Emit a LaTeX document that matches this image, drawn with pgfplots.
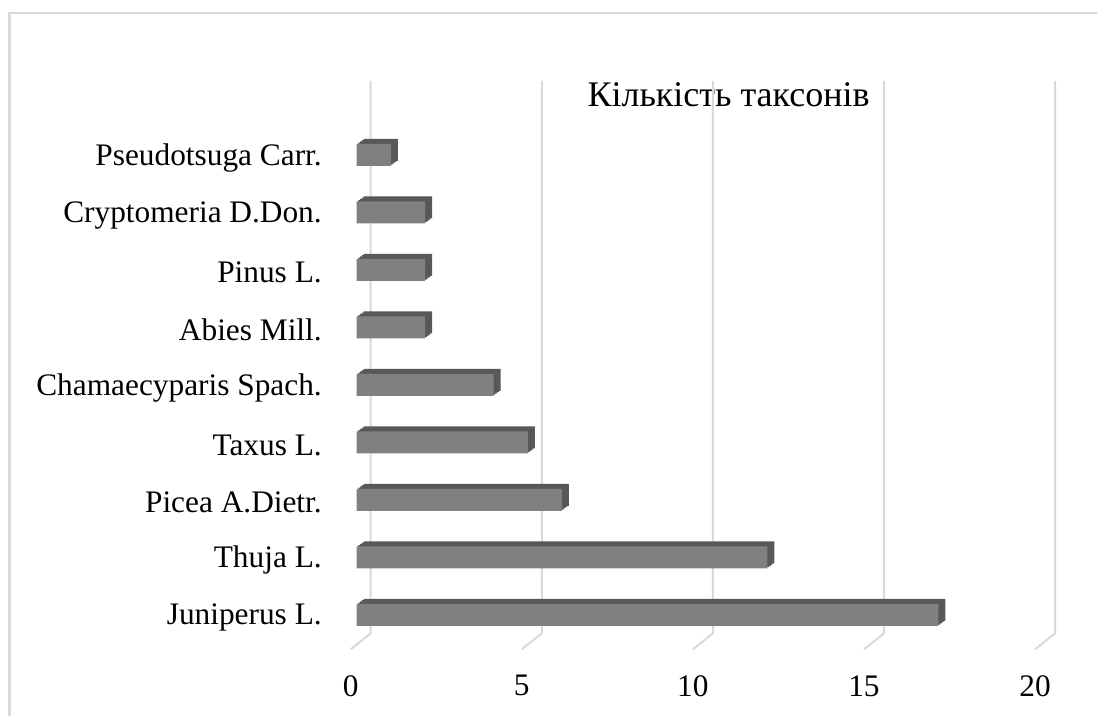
\documentclass[border=0pt]{standalone}
\usepackage{fontspec}
\setmainfont{Liberation Serif}
\usepackage{pgfplots}
\pgfplotsset{compat=1.18}
\definecolor{frontgray}{HTML}{808080}
\definecolor{backgray}{HTML}{585858}
\definecolor{gridgray}{HTML}{D9D9D9}
\pgfplotstableread{
v y
17 0
12 1
6 2
5 3
4 4
2 5
2 6
2 7
1 8
}\bars
\begin{document}
\begin{tikzpicture}
\useasboundingbox (0,0) rectangle (822.75pt,537pt);
% chart frame (left and top edges)
\draw[gridgray, line width=1.9pt] (7.3pt,-2pt) -- (7.3pt,527.4pt) -- (825pt,527.4pt);
% title
\node[anchor=base, font=\fontsize{27}{32}\selectfont, inner sep=0pt] at (546.4pt,456.75pt) {Кількість таксонів};
\begin{axis}[
  at={(267.5pt,75.75pt)}, anchor=origin,
  x=25.665pt, y=43.125pt,
  xmin=0, xmax=20, ymin=-0.597, ymax=8.417,
  clip=false,
  axis line style={draw=none},
  major tick length=0pt,
  xtick={0,5,10,15,20},
  xticklabels={0,5,10,15,20},
  ytick={0,1,2,3,4,5,6,7,8},
  yticklabels={Juniperus L.,Thuja L.,Picea A.Dietr.,Taxus L.,Chamaecyparis Spach.,Abies Mill.,Pinus L.,Cryptomeria D.Don.,Pseudotsuga Carr.},
  ticklabel style={font=\fontsize{23.5}{28}\selectfont, inner sep=0pt},
  xticklabel style={anchor=north, xshift=-4.5pt, yshift=-19.3pt},
  yticklabel style={anchor=east, xshift=-26pt, yshift=-2pt},
  xbar, bar width=16.5pt,
]
\pgfplotsinvokeforeach{0,5,10,15,20}{
  \draw[gridgray, line width=1.5pt] ([xshift=-4.5pt]axis cs:#1,-0.597) -- ++(15pt,12pt) -- ++(0,388.5pt);
}
\addplot[xbar, bar shift=0pt, fill=backgray, draw=none, xshift=5.25pt, yshift=3.75pt] table[x=v,y=y] {\bars};
\addplot[xbar, bar shift=0pt, fill=backgray, draw=none, xshift=3.94pt, yshift=2.81pt] table[x=v,y=y] {\bars};
\addplot[xbar, bar shift=0pt, fill=backgray, draw=none, xshift=2.63pt, yshift=1.88pt] table[x=v,y=y] {\bars};
\addplot[xbar, bar shift=0pt, fill=backgray, draw=none, xshift=1.31pt, yshift=0.94pt] table[x=v,y=y] {\bars};
\addplot[xbar, bar shift=0pt, fill=frontgray, draw=none] table[x=v,y=y] {\bars};
\end{axis}
\end{tikzpicture}
\end{document}
